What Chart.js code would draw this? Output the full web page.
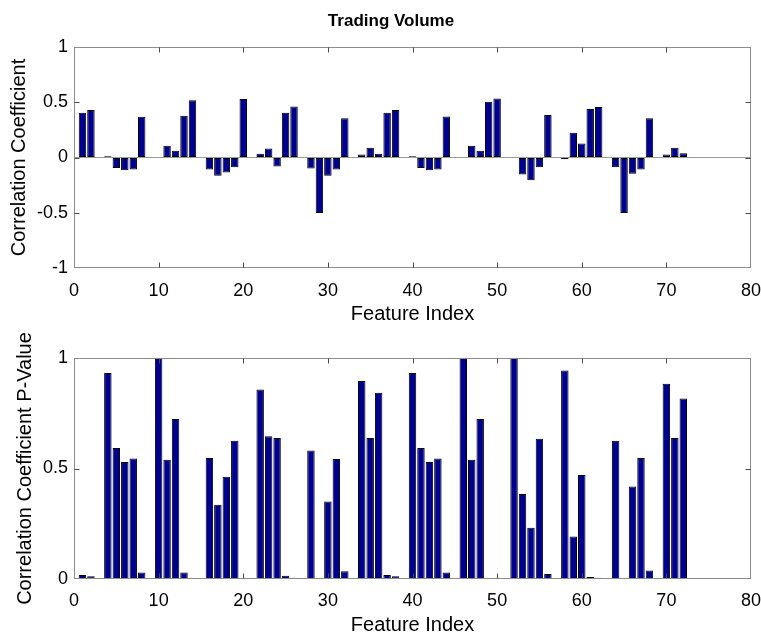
<!DOCTYPE html>
<html>
<head>
<meta charset="utf-8">
<script src="https://cdn.jsdelivr.net/npm/chart.js@4.4.1/dist/chart.umd.min.js"></script>
<style>
  html, body { margin: 0; padding: 0; background: #fff; width: 761px; height: 637px; overflow: hidden; }
  canvas { position: absolute; left: 0; }
  #corrChart { top: 0; }
  #pChart { top: 330px; }
</style>
</head>
<body>
<canvas id="corrChart" width="761" height="330"></canvas>
<canvas id="pChart" width="761" height="307"></canvas>
<script>
// Feature indices (x positions of the bars)
const featureIndex = [
  1, 2, 3, 4, 5, 6, 7, 8, 9, 10, 11, 12, 13, 14, 15, 16, 17, 18,
  19, 20, 21, 22, 23, 24, 25, 26, 27, 28, 29, 30, 31, 32, 33, 34, 35, 36,
  37, 38, 39, 40, 41, 42, 43, 44, 45, 46, 47, 48, 49, 50, 51, 52, 53, 54,
  55, 56, 57, 58, 59, 60, 61, 62, 63, 64, 65, 66, 67, 68, 69, 70, 71, 72
];

// Correlation coefficient of each feature with trading volume (null = not computed)
const correlation = [
  0.405, 0.429, null, 0.012, -0.094, -0.115, -0.109, 0.369, null,
  0, 0.106, 0.060, 0.378, 0.517, null, -0.109, -0.166, -0.136,
  -0.088, 0.529, null, 0.033, 0.082, -0.082, 0.405, 0.462, null,
  -0.100, -0.502, -0.166, -0.109, 0.356, null, 0.027, 0.088, 0.033,
  0.405, 0.429, null, 0.012, -0.094, -0.115, -0.109, 0.372, null,
  0, 0.106, 0.060, 0.505, 0.535, null, 0, -0.154, -0.205,
  -0.088, 0.384, null, -0.015, 0.224, 0.127, 0.438, 0.456, null,
  -0.088, -0.502, -0.148, -0.109, 0.356, null, 0.027, 0.088, 0.039
];

// P-value of each correlation coefficient (null = not computed)
const pValue = [
  0.018, 0.012, null, 0.932, 0.593, 0.529, 0.545, 0.029, null,
  1.000, 0.540, 0.724, 0.029, 0.003, null, 0.548, 0.336, 0.463,
  0.626, 0.003, null, 0.857, 0.646, 0.638, 0.015, 0.006, null,
  0.582, 0.003, 0.351, 0.543, 0.035, null, 0.896, 0.638, 0.843,
  0.018, 0.012, null, 0.932, 0.593, 0.529, 0.545, 0.029, null,
  1.000, 0.540, 0.724, 0.003, 0.001, null, 1.000, 0.385, 0.232,
  0.635, 0.023, null, 0.943, 0.192, 0.471, 0.009, 0.006, null,
  0.626, 0.003, 0.419, 0.548, 0.039, null, 0.884, 0.638, 0.817
];

// Axis ticks and their labels
const xTickValues = [0, 10, 20, 30, 40, 50, 60, 70, 80];
const xTickLabels = ['0', '10', '20', '30', '40', '50', '60', '70', '80'];
const corrTickValues = [-1, -0.5, 0, 0.5, 1];
const corrTickLabels = ['-1', '-0.5', '0', '0.5', '1'];
const pTickValues = [0, 0.5, 1];
const pTickLabels = ['0', '0.5', '1'];

const FONT = '"Liberation Sans", Arial, Helvetica, sans-serif';
const BAR_FILL = '#000090';
const BAR_EDGE = '#000000';
const BOX_COLOR = '#8c8c8c';
const TICK_COLOR = '#4a4a4a';

Chart.defaults.font.family = FONT;
Chart.defaults.color = '#000';

function toPoints(values) {
  const pts = [];
  values.forEach((v, i) => {
    if (v !== null) pts.push({ x: featureIndex[i], y: v });
  });
  return pts;
}

// Axes box with short inward tick marks on all four sides
const boxAndTicks = {
  id: 'boxAndTicks',
  afterDraw(chart) {
    const { ctx, chartArea: a, scales: { x, y } } = chart;
    const L = Math.round(a.left) + 0.5, R = Math.round(a.right) - 0.5;
    const T = Math.round(a.top) + 0.5, B = Math.round(a.bottom) - 0.5;
    const len = 5;
    ctx.save();
    ctx.lineWidth = 1;
    ctx.strokeStyle = BOX_COLOR;
    ctx.strokeRect(L, T, R - L, B - T);
    ctx.strokeStyle = TICK_COLOR;
    ctx.beginPath();
    x.ticks.forEach(t => {
      const px = Math.round(x.getPixelForValue(t.value)) + 0.5;
      if (px <= L + 1 || px >= R - 1) return;
      ctx.moveTo(px, B); ctx.lineTo(px, B - len);
      ctx.moveTo(px, T); ctx.lineTo(px, T + len);
    });
    y.ticks.forEach(t => {
      const py = Math.round(y.getPixelForValue(t.value)) + 0.5;
      if (py <= T + 1 || py >= B - 1) return;
      ctx.moveTo(L, py); ctx.lineTo(L + len, py);
      ctx.moveTo(R, py); ctx.lineTo(R - len, py);
    });
    ctx.stroke();
    ctx.restore();
  }
};

function xScale(tickPad, titlePadBottom, height) {
  return {
    type: 'linear',
    min: 0, max: 80,
    offset: false,
    afterBuildTicks: s => { s.ticks = xTickValues.map(v => ({ value: v })); },
    ticks: {
      padding: tickPad,
      font: { size: 18 },
      color: '#000',
      maxRotation: 0,
      autoSkip: false,
      callback: (v, i) => xTickLabels[i]
    },
    grid: { display: false, drawTicks: false, offset: false },
    border: { display: false },
    title: {
      display: true,
      text: 'Feature Index',
      font: { size: 20, lineHeight: 1.2 },
      color: '#000',
      padding: { top: 0, bottom: titlePadBottom }
    },
    afterFit: s => {
      s.height = height;
      s.paddingLeft = 0;
      s.paddingRight = 0;
    }
  };
}

function yScale(min, max, values, labels, title, titlePadTop, width, zeroLine) {
  return {
    type: 'linear',
    min, max,
    afterBuildTicks: s => { s.ticks = values.map(v => ({ value: v })); },
    ticks: {
      padding: 6,
      font: { size: 18 },
      color: '#000',
      autoSkip: false,
      callback: (v, i) => labels[i]
    },
    grid: {
      display: zeroLine,
      drawTicks: false,
      drawOnChartArea: true,
      lineWidth: 1,
      color: c => (c.tick && c.tick.value === 0) ? '#9a9a9a' : 'rgba(0,0,0,0)'
    },
    border: { display: false },
    title: {
      display: true,
      text: title,
      font: { size: 20, lineHeight: 1.2 },
      color: '#000',
      padding: { top: titlePadTop, bottom: 0 }
    },
    afterFit: s => {
      s.width = width;
      s.paddingTop = 0;
      s.paddingBottom = 0;
    }
  };
}

function barDataset(values) {
  return {
    data: toPoints(values),
    backgroundColor: BAR_FILL,
    borderColor: BAR_EDGE,
    borderWidth: 1,
    borderSkipped: false,
    barPercentage: 0.88,
    categoryPercentage: 1.0
  };
}

const common = {
  responsive: false,
  animation: false,
  devicePixelRatio: 1,
  plugins: { legend: { display: false }, tooltip: { enabled: false } }
};

// Top: correlation coefficients
new Chart(document.getElementById('corrChart'), {
  type: 'bar',
  data: { datasets: [barDataset(correlation)] },
  options: {
    ...common,
    layout: { padding: { left: 31, right: 10, top: 0, bottom: 0 } },
    plugins: {
      ...common.plugins,
      title: {
        display: true,
        text: 'Trading Volume',
        font: { size: 17, weight: 'bold', lineHeight: 1.2 },
        color: '#000',
        padding: { top: 11, bottom: 15.6 }
      }
    },
    scales: {
      x: xScale(12, 4, 62),
      y: yScale(-1, 1, corrTickValues, corrTickLabels, 'Correlation Coefficient', -24, 43, true)
    }
  },
  plugins: [boxAndTicks]
});

// Bottom: p-values of the correlation coefficients
new Chart(document.getElementById('pChart'), {
  type: 'bar',
  data: { datasets: [barDataset(pValue)] },
  options: {
    ...common,
    layout: { padding: { left: 0, right: 10, top: 28, bottom: 0 } },
    scales: {
      x: xScale(11, 0, 58),
      y: yScale(0, 1, pTickValues, pTickLabels, 'Correlation Coefficient P-Value', 13, 74, false)
    }
  },
  plugins: [boxAndTicks]
});
</script>
</body>
</html>
